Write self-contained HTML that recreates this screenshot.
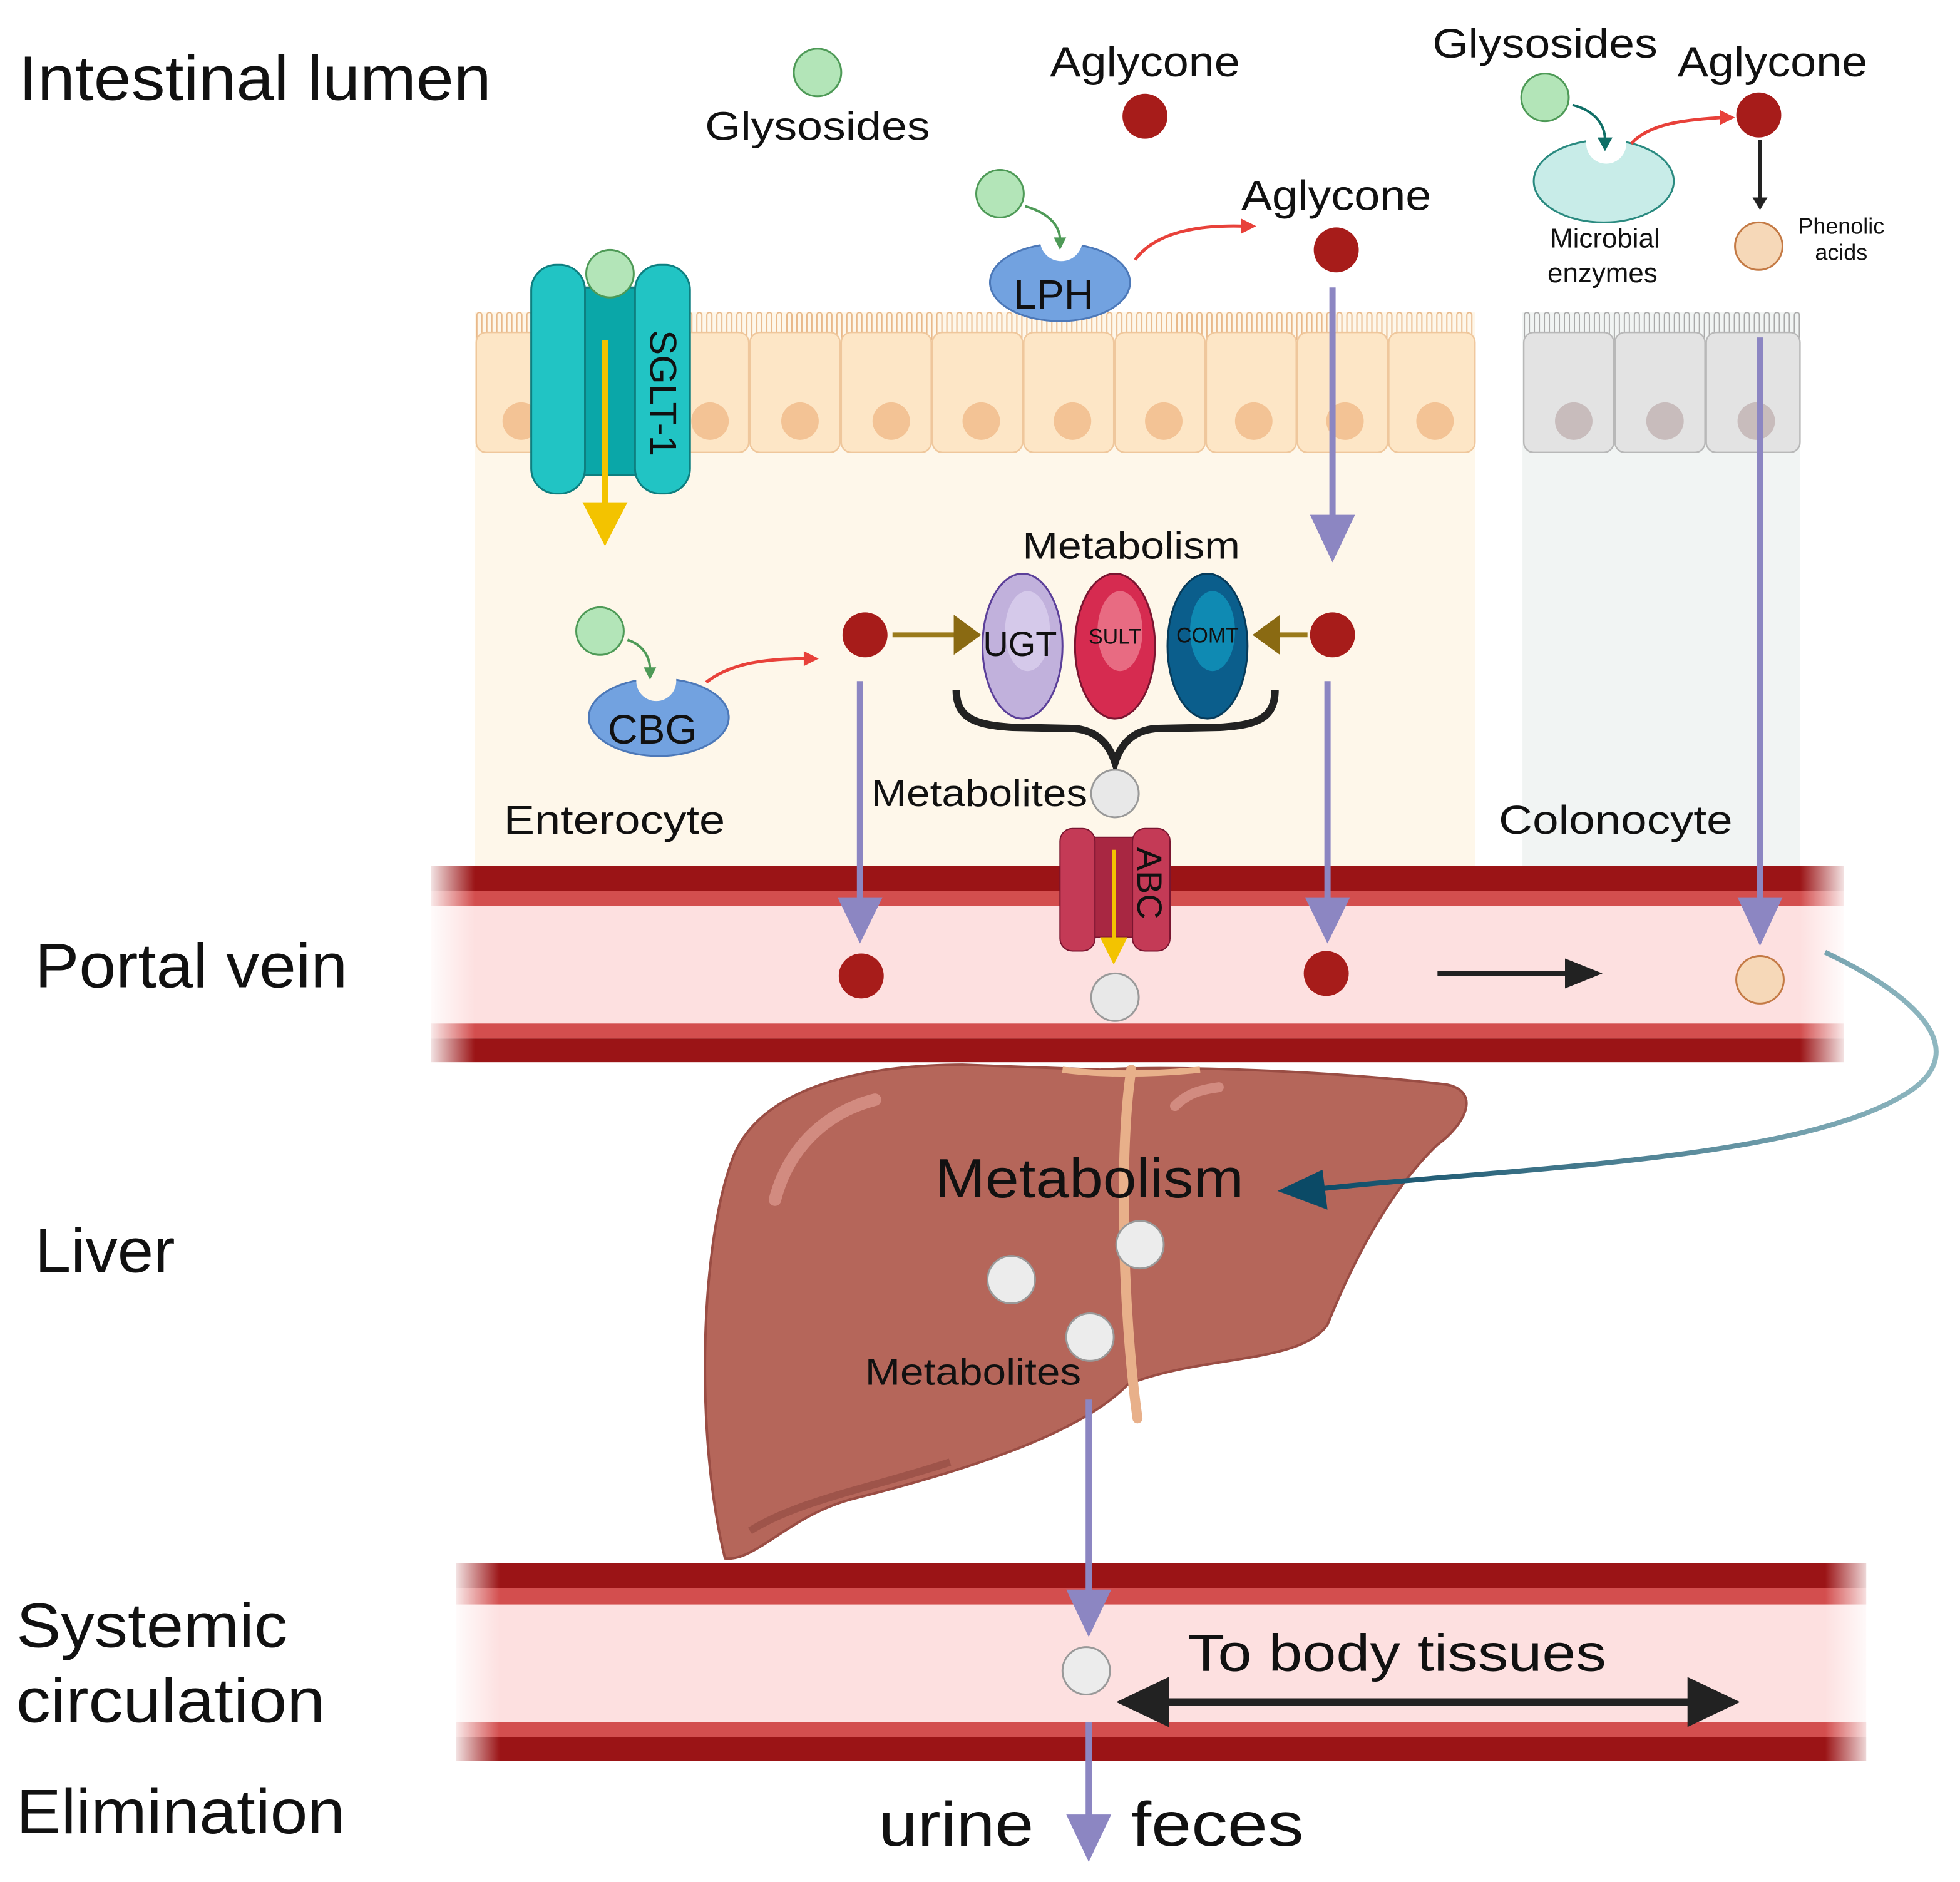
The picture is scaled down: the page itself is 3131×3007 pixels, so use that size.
<!DOCTYPE html>
<html><head><meta charset="utf-8"><style>
html,body{margin:0;padding:0;background:#fff;}
svg{display:block;}
text{font-family:"Liberation Sans",sans-serif;fill:#111;}
</style></head><body>
<svg width="3131" height="3007" viewBox="0 0 1568 1506" preserveAspectRatio="none" xmlns="http://www.w3.org/2000/svg">
<defs>
<pattern id="vil" x="380" y="248" width="8" height="24" patternUnits="userSpaceOnUse">
<path d="M1.5 24 V4 a2 2 0 0 1 4 0 V24" fill="none" stroke="#e9b98a" stroke-width="1"/>
</pattern>
<pattern id="vilg" x="1218" y="248" width="8" height="24" patternUnits="userSpaceOnUse">
<path d="M1.5 24 V4 a2 2 0 0 1 4 0 V24" fill="none" stroke="#aaa" stroke-width="1"/>
</pattern>
<linearGradient id="fadeL" x1="0" x2="1"><stop offset="0" stop-color="#fff" stop-opacity="1"/><stop offset="1" stop-color="#fff" stop-opacity="0"/></linearGradient>
<linearGradient id="fadeR" x1="0" x2="1"><stop offset="0" stop-color="#fff" stop-opacity="0"/><stop offset="1" stop-color="#fff" stop-opacity="1"/></linearGradient>
<linearGradient id="curveG" x1="0" x2="1"><stop offset="0" stop-color="#0b4a66"/><stop offset="1" stop-color="#8fb7c0"/></linearGradient>
</defs>

<!-- enterocyte region -->
<rect x="380" y="250" width="800" height="445" fill="#fef7ea"/>
<rect x="380" y="248" width="800" height="24" fill="url(#vil)"/>
<g fill="#fde6c6" stroke="#efc79c" stroke-width="1.2">
<rect x="381" y="266" width="72" height="96" rx="8"/><rect x="454" y="266" width="72" height="96" rx="8"/><rect x="527" y="266" width="72" height="96" rx="8"/><rect x="600" y="266" width="72" height="96" rx="8"/><rect x="673" y="266" width="72" height="96" rx="8"/><rect x="746" y="266" width="72" height="96" rx="8"/><rect x="819" y="266" width="72" height="96" rx="8"/><rect x="892" y="266" width="72" height="96" rx="8"/><rect x="965" y="266" width="72" height="96" rx="8"/><rect x="1038" y="266" width="72" height="96" rx="8"/><rect x="1111" y="266" width="69" height="96" rx="8"/>
</g>
<g fill="#f3c395"><circle cx="417" cy="337" r="15"/><circle cx="568" cy="337" r="15"/><circle cx="640" cy="337" r="15"/><circle cx="713" cy="337" r="15"/><circle cx="785" cy="337" r="15"/><circle cx="858" cy="337" r="15"/><circle cx="931" cy="337" r="15"/><circle cx="1003" cy="337" r="15"/><circle cx="1076" cy="337" r="15"/><circle cx="1148" cy="337" r="15"/></g>

<!-- colonocyte -->
<rect x="1218" y="250" width="222" height="445" fill="#f1f4f3"/>
<rect x="1218" y="248" width="222" height="24" fill="url(#vilg)"/>
<g fill="#e3e3e3" stroke="#b8b8b8" stroke-width="1.2"><rect x="1219" y="266" width="72" height="96" rx="8"/><rect x="1292" y="266" width="72" height="96" rx="8"/><rect x="1365" y="266" width="75" height="96" rx="8"/></g>
<g fill="#c8bcbc"><circle cx="1259" cy="337" r="15"/><circle cx="1332" cy="337" r="15"/><circle cx="1405" cy="337" r="15"/></g>

<!-- portal vein -->
<rect x="345" y="693" width="1130" height="20" fill="#9b1416"/>
<rect x="345" y="713" width="1130" height="12" fill="#d34e4e"/>
<rect x="345" y="725" width="1130" height="94" fill="#fde0e0"/>
<rect x="345" y="819" width="1130" height="12" fill="#d34e4e"/>
<rect x="345" y="831" width="1130" height="19" fill="#9b1416"/>
<rect x="340" y="690" width="40" height="165" fill="url(#fadeL)"/>
<rect x="1440" y="690" width="40" height="165" fill="url(#fadeR)"/>

<!-- systemic -->
<rect x="365" y="1251" width="1128" height="20" fill="#9b1416"/>
<rect x="365" y="1271" width="1128" height="13" fill="#d34e4e"/>
<rect x="365" y="1284" width="1128" height="94" fill="#fde0e0"/>
<rect x="365" y="1378" width="1128" height="12" fill="#d34e4e"/>
<rect x="365" y="1390" width="1128" height="19" fill="#9b1416"/>
<rect x="360" y="1248" width="40" height="165" fill="url(#fadeL)"/>
<rect x="1460" y="1248" width="40" height="165" fill="url(#fadeR)"/>

<!-- liver -->
<path d="M580 1247 C556 1150 560 1000 585 930 C605 870 690 852 770 852 L880 856 C940 852 1080 858 1158 868 C1185 874 1172 900 1150 916 C1112 952 1082 1010 1062 1060 C1040 1092 960 1084 902 1108 C862 1150 760 1180 680 1200 C630 1214 604 1250 580 1247 Z" fill="#b5665a" stroke="#9a4d44" stroke-width="2"/>
<path d="M600 1225 C640 1200 700 1190 760 1170" stroke="#8f4740" stroke-width="6" fill="none" opacity="0.6"/>
<path d="M620 960 C630 920 660 890 700 880" stroke="#d28b80" stroke-width="10" fill="none" stroke-linecap="round"/>
<path d="M940 885 C950 875 960 872 975 870" stroke="#d28b80" stroke-width="8" fill="none" stroke-linecap="round"/>
<path d="M905 856 C895 920 898 1050 910 1135" stroke="#e8b08a" stroke-width="8" fill="none" stroke-linecap="round"/>
<path d="M850 856 C880 860 920 860 960 856" stroke="#e8b08a" stroke-width="5" fill="none"/>

<!-- labels big -->
<text x="15" y="80" font-size="50" textLength="378" lengthAdjust="spacingAndGlyphs">Intestinal lumen</text>
<text x="28" y="790" font-size="50" textLength="250" lengthAdjust="spacingAndGlyphs">Portal vein</text>
<text x="28" y="1018" font-size="50" textLength="112" lengthAdjust="spacingAndGlyphs">Liver</text>
<text x="13" y="1318" font-size="50" textLength="217" lengthAdjust="spacingAndGlyphs">Systemic</text>
<text x="13" y="1378" font-size="50" textLength="247" lengthAdjust="spacingAndGlyphs">circulation</text>
<text x="13" y="1467" font-size="50" textLength="263" lengthAdjust="spacingAndGlyphs">Elimination</text>

<!-- lumen molecules -->
<circle cx="654" cy="58" r="19" fill="#b3e5b8" stroke="#4e9a57" stroke-width="1.5"/>
<text x="564" y="112" font-size="32" textLength="180" lengthAdjust="spacingAndGlyphs">Glysosides</text>
<text x="840" y="61" font-size="34" textLength="152" lengthAdjust="spacingAndGlyphs">Aglycone</text>
<circle cx="916" cy="93" r="18" fill="#a71c1a"/>

<!-- LPH -->
<ellipse cx="848" cy="226" rx="56" ry="31" fill="#72a2e0" stroke="#4c78b8" stroke-width="1.5"/>
<path d="M832 192 A17 17 0 0 0 866 192 L866 180 L832 180Z" fill="#fff"/>
<circle cx="800" cy="155" r="19" fill="#b3e5b8" stroke="#4e9a57" stroke-width="1.5"/>
<path d="M820 165 C838 170 848 180 848 192" stroke="#4e9a57" stroke-width="2" fill="none"/>
<path d="M843 190 L848 200 L853 190Z" fill="#4e9a57"/>
<text x="843" y="247" font-size="33" text-anchor="middle">LPH</text>
<path d="M908 208 C925 185 960 180 995 181" stroke="#e8413a" stroke-width="2.5" fill="none"/>
<path d="M993 175 L1005 181 L993 187Z" fill="#e8413a"/>
<text x="993" y="168" font-size="34" textLength="152" lengthAdjust="spacingAndGlyphs">Aglycone</text>
<circle cx="1069" cy="200" r="18" fill="#a71c1a"/>

<!-- colon lumen -->
<text x="1146" y="46" font-size="33" textLength="180" lengthAdjust="spacingAndGlyphs">Glysosides</text>
<text x="1342" y="61" font-size="34" textLength="152" lengthAdjust="spacingAndGlyphs">Aglycone</text>
<ellipse cx="1283" cy="145" rx="56" ry="33" fill="#c8ece8" stroke="#2a8a80" stroke-width="1.5"/>
<path d="M1269 115 A16 16 0 0 0 1301 115 L1301 105 L1269 105Z" fill="#fff"/>
<circle cx="1236" cy="78" r="19" fill="#b3e5b8" stroke="#4e9a57" stroke-width="1.5"/>
<path d="M1258 84 C1274 88 1284 98 1284 112" stroke="#0f6e66" stroke-width="2" fill="none"/>
<path d="M1278 110 L1284 121 L1290 110Z" fill="#0f6e66"/>
<path d="M1305 115 C1320 98 1350 96 1378 94" stroke="#e8413a" stroke-width="2.5" fill="none"/>
<path d="M1376 88 L1388 94 L1376 100Z" fill="#e8413a"/>
<circle cx="1407" cy="92" r="18" fill="#a71c1a"/>
<path d="M1408 112 V160" stroke="#222" stroke-width="3"/>
<path d="M1402 158 L1408 168 L1414 158Z" fill="#222"/>
<circle cx="1407" cy="197" r="19" fill="#f6d8b8" stroke="#c47a45" stroke-width="1.5"/>
<text x="1473" y="187" font-size="18" text-anchor="middle" fill="#333">Phenolic</text>
<text x="1473" y="208" font-size="18" text-anchor="middle" fill="#333">acids</text>
<text x="1284" y="198" font-size="22" text-anchor="middle" fill="#222">Microbial</text>
<text x="1282" y="226" font-size="22" text-anchor="middle" fill="#222">enzymes</text>

<!-- SGLT-1 -->
<rect x="462" y="230" width="50" height="150" fill="#0aa7a8" stroke="#0e7f80" stroke-width="1.5"/>
<rect x="425" y="212" width="43" height="183" rx="20" fill="#21c4c4" stroke="#0e7f80" stroke-width="1.5"/>
<rect x="508" y="212" width="44" height="183" rx="20" fill="#21c4c4" stroke="#0e7f80" stroke-width="1.5"/>
<circle cx="488" cy="219" r="19" fill="#b3e5b8" stroke="#4e9a57" stroke-width="1.5"/>
<path d="M484 272 V405" stroke="#f3c300" stroke-width="5"/>
<path d="M466 402 L502 402 L484 437Z" fill="#f3c300"/>
<text x="0" y="0" font-size="30" transform="translate(520 264) rotate(90)">SGLT-1</text>

<!-- CBG -->
<ellipse cx="527" cy="574" rx="56" ry="31" fill="#72a2e0" stroke="#4c78b8" stroke-width="1.5"/>
<path d="M509 545 A16 16 0 0 0 541 545 L541 538 L509 538Z" fill="#fef7ea"/>
<circle cx="480" cy="505" r="19" fill="#b3e5b8" stroke="#4e9a57" stroke-width="1.5"/>
<path d="M502 512 C514 516 520 525 520 536" stroke="#4e9a57" stroke-width="2" fill="none"/>
<path d="M515 534 L520 544 L525 534Z" fill="#4e9a57"/>
<text x="522" y="595" font-size="33" text-anchor="middle">CBG</text>
<path d="M565 546 C585 530 615 527 645 527" stroke="#e8413a" stroke-width="2.5" fill="none"/>
<path d="M643 521 L655 527 L643 533Z" fill="#e8413a"/>

<!-- enterocyte metabolism -->
<circle cx="692" cy="508" r="18" fill="#a71c1a"/>
<path d="M714 508 H765" stroke="#9a7a1a" stroke-width="4"/>
<path d="M763 492 L785 508 L763 524Z" fill="#8a6a12"/>
<circle cx="1066" cy="508" r="18" fill="#a71c1a"/>
<path d="M1046 508 H1022" stroke="#9a7a1a" stroke-width="4"/>
<path d="M1024 492 L1002 508 L1024 524Z" fill="#8a6a12"/>
<text x="818" y="447" font-size="30" textLength="174" lengthAdjust="spacingAndGlyphs">Metabolism</text>
<ellipse cx="818" cy="517" rx="32" ry="58" fill="#c1b1dc" stroke="#5b3f99" stroke-width="1.5"/>
<ellipse cx="822" cy="505" rx="18" ry="32" fill="#d5c9ea"/>
<ellipse cx="892" cy="517" rx="32" ry="58" fill="#d62b50" stroke="#7a1530" stroke-width="1.5"/>
<ellipse cx="896" cy="505" rx="18" ry="32" fill="#e86b82"/>
<ellipse cx="966" cy="517" rx="32" ry="58" fill="#0b5e8c" stroke="#073b5a" stroke-width="1.5"/>
<ellipse cx="970" cy="505" rx="18" ry="32" fill="#0f8ab3"/>
<text x="816" y="525" font-size="28" text-anchor="middle">UGT</text>
<text x="892" y="515" font-size="17" text-anchor="middle" fill="#5a1020">SULT</text>
<text x="966" y="514" font-size="17" text-anchor="middle" fill="#062c44">COMT</text>
<path d="M765 552 C765 575 780 580 810 582 L860 583 C880 585 888 598 892 610 C896 598 904 585 924 583 L976 582 C1006 580 1020 575 1020 552" stroke="#222" stroke-width="6" fill="none"/>
<text x="697" y="645" font-size="30" textLength="173" lengthAdjust="spacingAndGlyphs">Metabolites</text>
<circle cx="892" cy="635" r="19" fill="#e8e8e8" stroke="#999" stroke-width="1.5"/>
<text x="403" y="667" font-size="32" textLength="177" lengthAdjust="spacingAndGlyphs">Enterocyte</text>
<text x="1199" y="667" font-size="32" textLength="187" lengthAdjust="spacingAndGlyphs">Colonocyte</text>

<!-- ABC -->
<rect x="862" y="670" width="58" height="80" fill="#a82742" stroke="#7a1530" stroke-width="1"/>
<rect x="848" y="663" width="28" height="98" rx="10" fill="#c43a56" stroke="#7a1530" stroke-width="1"/>
<rect x="906" y="663" width="30" height="98" rx="10" fill="#c43a56" stroke="#7a1530" stroke-width="1"/>
<text x="0" y="0" font-size="28" transform="translate(910 678) rotate(90)">ABC</text>
<path d="M891 680 V752" stroke="#f3c300" stroke-width="3"/>
<path d="M880 750 L902 750 L891 772Z" fill="#f3c300"/>

<!-- purple arrows -->
<g stroke="#8c86c2" stroke-width="5">
<path d="M688 545 V720" />
<path d="M1066 230 V415" />
<path d="M1062 545 V720" />
<path d="M1408 270 V720" />
<path d="M871 1120 V1275" />
<path d="M871 1378 V1455" />
</g>
<g fill="#8c86c2">
<path d="M670 718 L706 718 L688 755Z"/>
<path d="M1048 412 L1084 412 L1066 450Z"/>
<path d="M1044 718 L1080 718 L1062 755Z"/>
<path d="M1390 718 L1426 718 L1408 757Z"/>
<path d="M853 1272 L889 1272 L871 1310Z"/>
<path d="M853 1452 L889 1452 L871 1490Z"/>
</g>

<!-- portal vein contents -->
<circle cx="689" cy="781" r="18" fill="#a71c1a"/>
<circle cx="1061" cy="779" r="18" fill="#a71c1a"/>
<circle cx="892" cy="798" r="19" fill="#e8e8e8" stroke="#999" stroke-width="1.5"/>
<circle cx="1408" cy="784" r="19" fill="#f6d8b8" stroke="#c47a45" stroke-width="1.5"/>
<path d="M1150 779 H1255" stroke="#222" stroke-width="4"/>
<path d="M1252 767 L1282 779 L1252 791Z" fill="#222"/>

<!-- curve to liver -->
<path d="M1460 762 C1540 800 1580 845 1520 878 C1430 930 1200 935 1050 952" stroke="url(#curveG)" stroke-width="4" fill="none"/>
<path d="M1058 936 L1022 953 L1062 968Z" fill="#0b4a66"/>

<!-- liver text -->
<text x="748" y="958" font-size="44" textLength="247" lengthAdjust="spacingAndGlyphs">Metabolism</text>
<circle cx="912" cy="996" r="19" fill="#ececec" stroke="#999" stroke-width="1.5"/>
<circle cx="809" cy="1024" r="19" fill="#ececec" stroke="#999" stroke-width="1.5"/>
<circle cx="872" cy="1070" r="19" fill="#ececec" stroke="#999" stroke-width="1.5"/>
<text x="692" y="1108" font-size="30" textLength="173" lengthAdjust="spacingAndGlyphs">Metabolites</text>

<!-- systemic contents -->
<circle cx="869" cy="1337" r="19" fill="#ececec" stroke="#999" stroke-width="1.5"/>
<text x="950" y="1337" font-size="42" textLength="335" lengthAdjust="spacingAndGlyphs">To body tissues</text>
<path d="M925 1362 H1360" stroke="#222" stroke-width="6"/>
<path d="M935 1342 L893 1362 L935 1382Z" fill="#222"/>
<path d="M1350 1342 L1392 1362 L1350 1382Z" fill="#222"/>

<text x="703" y="1477" font-size="50" textLength="124" lengthAdjust="spacingAndGlyphs">urine</text>
<text x="905" y="1477" font-size="50" textLength="138" lengthAdjust="spacingAndGlyphs">feces</text>
</svg>
</body></html>
